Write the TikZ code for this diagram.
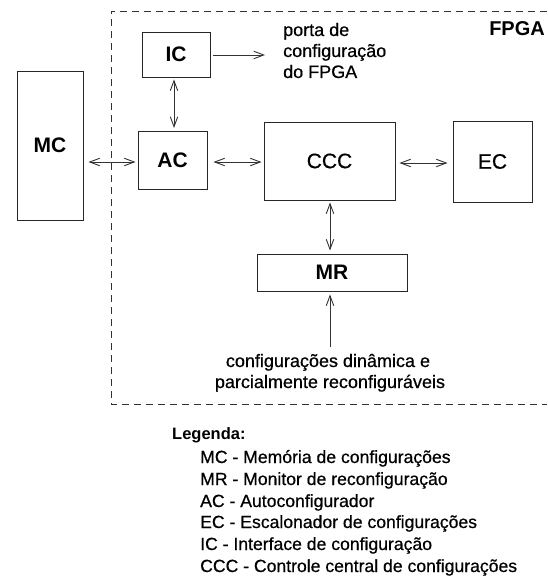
\documentclass[tikz,border=0pt]{standalone}
\usepackage{fontspec}
\setmainfont{Liberation Sans}
\newfontfamily\heavy[FakeBold=0.6]{Liberation Sans}
\usetikzlibrary{arrows.meta}
\begin{document}
\begin{tikzpicture}[x=1pt,y=-1pt,
  box/.style={draw=black!85, line width=0.9pt, inner sep=0pt},
  lbl/.style={font=\heavy\fontsize{21}{24}\selectfont},
  blbl/.style={font=\bfseries\fontsize{21}{24}\selectfont},
  conn/.style={draw=black!80, line width=0.9pt,
    {Straight Barb[length=10pt,width=7.5pt]}-{Straight Barb[length=10pt,width=7.5pt]}},
  oneway/.style={draw=black!80, line width=0.9pt, -{Straight Barb[length=10pt,width=7.5pt]}},
  txt/.style={anchor=base west, inner sep=0pt, font=\heavy\fontsize{18}{21}\selectfont},
  ctxt/.style={anchor=base, inner sep=0pt, font=\heavy\fontsize{18}{21}\selectfont},
  leg/.style={anchor=base west, inner sep=0pt, font=\heavy\fontsize{17.6}{20}\selectfont},
  frame/.style={draw=black!80, line width=0.8pt, dash pattern=on 7pt off 5pt}]
\useasboundingbox (0,0) rectangle (547,577);

% FPGA frame
\draw[frame] (547,11) -- (111,11) -- (111,404) -- (547,404);
\node[anchor=base east, inner sep=0pt, font=\bfseries\fontsize{20}{24}\selectfont] (fpga) at (545,36) {FPGA};

% boxes
\node[box, blbl, minimum width=68pt, minimum height=45pt] (IC) at (176,54.5) {IC};
\node[box, blbl, minimum width=66pt, minimum height=149pt] (MC) at (50,145.5) {MC};
\node[box, blbl, minimum width=69pt, minimum height=58pt] (AC) at (172.5,160) {AC};
\node[box, lbl, minimum width=131pt, minimum height=78pt] (CCC) at (329.5,161) {CCC};
\node[box, lbl, minimum width=79pt, minimum height=81pt] (EC) at (492.5,161.5) {EC};
\node[box, blbl, minimum width=150pt, minimum height=37pt] (MR) at (332,272.5) {MR};

% texts
\node[txt] (p1) at (283,36) {porta de};
\node[txt] (p2) at (283,57) {configuração};
\node[txt] (p3) at (283,78) {do FPGA};
\coordinate (port) at (265,55);

\node[ctxt] (d1) at (328,367) {configurações dinâmica e};
\node[ctxt] (d2) at (330,388) {parcialmente reconfiguráveis};
\coordinate (dyn) at (330,347);

% connectors
\draw[oneway, shorten <=3pt] (IC.east |- port) -- (port);
\draw[conn, shorten <=2pt, shorten >=3pt] (IC.south -| 174,0) -- (174,131);
\draw[conn, shorten <=5pt, shorten >=2pt] (MC.east |- 0,162) -- (AC.west |- 0,162);
\draw[conn, shorten <=6pt, shorten >=2pt] (AC.east |- 0,162) -- (CCC.west |- 0,162);
\draw[conn, shorten <=4pt, shorten >=5pt] (CCC.east |- 0,163) -- (EC.west |- 0,163);
\draw[conn, shorten <=2pt, shorten >=3pt] (CCC.south -| 330,0) -- (MR.north -| 330,0);
\draw[oneway, shorten >=3pt] (dyn) -- (MR.south -| dyn);

% legend
\node[anchor=base west, inner sep=0pt, font=\bfseries\fontsize{16.5}{20}\selectfont] (legt) at (172,439) {Legenda:};
\node[leg] (l1) at (200,463) {MC - Memória de configurações};
\node[leg] (l2) at (200,485) {MR - Monitor de reconfiguração};
\node[leg] (l3) at (200,507) {AC - Autoconfigurador};
\node[leg] (l4) at (200,528) {EC - Escalonador de configurações};
\node[leg] (l5) at (200,550) {IC - Interface de configuração};
\node[leg] (l6) at (200,572) {CCC - Controle central de configurações};
\end{tikzpicture}
\end{document}
